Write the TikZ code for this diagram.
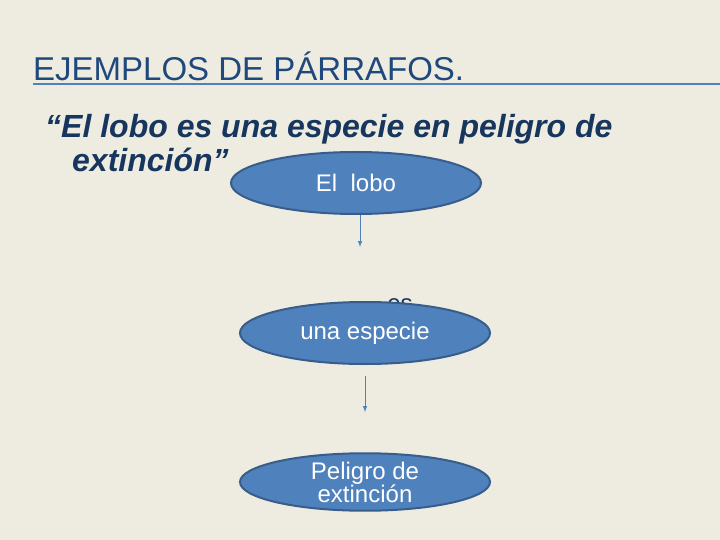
\documentclass[tikz,border=0pt]{standalone}
\usepackage{fontspec}
\setmainfont{Liberation Sans}
\usetikzlibrary{shapes.geometric}
\definecolor{slidebg}{HTML}{EEECE1}
\definecolor{titleblue}{HTML}{1F497D}
\definecolor{quoteblue}{HTML}{17365D}
\definecolor{bubblefill}{HTML}{4F81BD}
\definecolor{bubbleline}{HTML}{385D8A}
\tikzset{
  bubble/.style={ellipse, fill=bubblefill, draw=bubbleline, line width=2pt,
    minimum width=250pt, minimum height=62pt, inner sep=0pt, text=white,
    font=\fontsize{24}{27}\selectfont, align=center},
  link/.style={-latex, draw=bubblefill, line width=1pt}
}

\begin{document}
\begin{tikzpicture}[x=1pt, y=-1pt]
\useasboundingbox [fill=slidebg] (0, 0) rectangle (720, 540);
% title and its rule
\node (title) [anchor=base west, inner sep=0pt, text=titleblue, font=\fontsize{33}{36}\selectfont] at (33, 81) {EJEMPLOS DE PÁRRAFOS.};
\draw [bubblefill, line width=1.6pt](33, 84) -- (720, 84);
% quoted sentence
\node (quote1) [anchor=base west, inner sep=0pt, text=quoteblue, font=\fontsize{32}{36}\selectfont\bfseries\itshape] at (45, 138) {“El lobo es una especie en peligro de};
\node (quote2) [anchor=base west, inner sep=0pt, text=quoteblue, font=\fontsize{32}{36}\selectfont\bfseries\itshape] at (72, 172) {extinción”};
% hidden verb behind the second bubble
\node (verb) [anchor=base, inner sep=0pt, text=quoteblue, font=\fontsize{24}{28}\selectfont] at (400, 311) {es};
\node (lobo) [bubble] at (356, 183) {El\ \ lobo};
\node (especie) [bubble] at (365, 333) {una especie};
\node (peligro) [bubble, minimum height=56pt, font=\fontsize{24}{25}\selectfont] at (365, 482) {Peligro de\\[-2pt]extinción};
\coordinate (loboend) at (360, 247);
\coordinate (especieend) at (365, 412);
\draw [link]([xshift=4pt]lobo.south) -- (loboend);
\draw [link]([yshift=-11pt]especie.south) -- (especieend);
\end{tikzpicture}
\end{document}
